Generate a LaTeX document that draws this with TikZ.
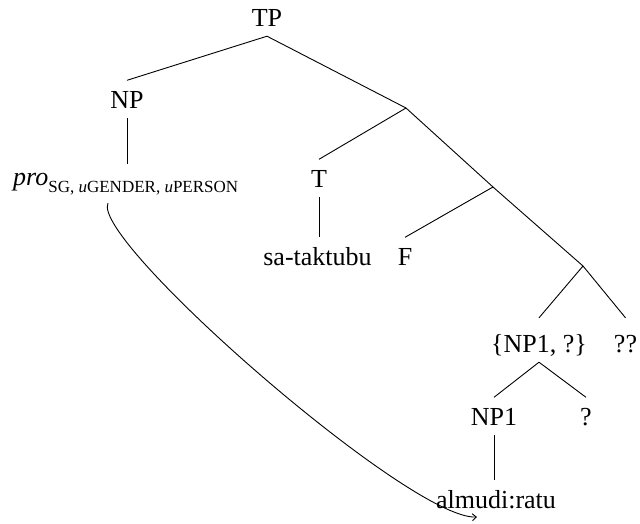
\documentclass[tikz,border=0pt]{standalone}
\usepackage{fontspec}
\setmainfont{Liberation Serif}
\usetikzlibrary{arrows.meta}
\begin{document}
\begin{tikzpicture}[x=1pt,y=-1pt,
  lbl/.style={font=\fontsize{26}{30}\selectfont, anchor=base, inner xsep=0pt, inner ysep=10pt, text height=17.5pt, text depth=0pt},
  edge/.style={line width=0.9pt, black},
  link/.style={line width=0.9pt, black, -{Straight Barb[length=4pt,width=7pt]}}
]
\useasboundingbox (0,0) rectangle (640,523);
% text nodes
\node[lbl] (TP) at (267,26) {TP};
\node[lbl] (NP) at (127,108) {NP};
\node[lbl, anchor=base west, text height=11pt] (pro) at (13,185)
  {{\itshape pro}\raisebox{-7pt}{\fontsize{17}{19}\selectfont SG, {\itshape u}GENDER, {\itshape u}PERSON}};
\node[lbl] (T) at (319,187) {T};
\node[lbl] (sa) at (317.5,265) {sa-taktubu};
\node[lbl] (F) at (405,265) {F};
\node[lbl, text height=24pt] (NPset) at (539,352) {\{NP1, ?\}};
\node[lbl, text height=24pt] (QQ) at (625.5,352) {??};
\node[lbl] (NP1) at (494,425) {NP1};
\node[lbl] (Q) at (586,425) {?};
\node[lbl] (alm) at (496,508) {almudi:ratu};
% branching points
\coordinate (J1) at (406,108);
\coordinate (J2) at (493,187);
\coordinate (J3) at (583,266);
% tree edges
\draw[edge] (TP.south) -- (NP.north);
\draw[edge] (TP.south) -- (J1);
\draw[edge] (J1) -- (T.north);
\draw[edge] (J1) -- (J2);
\draw[edge] (J2) -- (F.north);
\draw[edge] (J2) -- (J3);
\draw[edge] (J3) -- (NPset.north);
\draw[edge] (J3) -- (QQ.north);
\draw[edge] (NPset.south) -- (NP1.north);
\draw[edge] (NPset.south) -- (Q.north);
\draw[edge] (NP.south) -- (NP.south |- pro.north);
\draw[edge] (T.south) -- (T.south |- sa.north);
\draw[edge] (NP1.south) -- (NP1.south |- alm.north);
% binding arrow
\coordinate (cs) at (108,203);
\coordinate (ce) at (477,517);
\draw[link] (cs) .. controls (90,240) and (410,520) .. (ce);
\end{tikzpicture}
\end{document}
